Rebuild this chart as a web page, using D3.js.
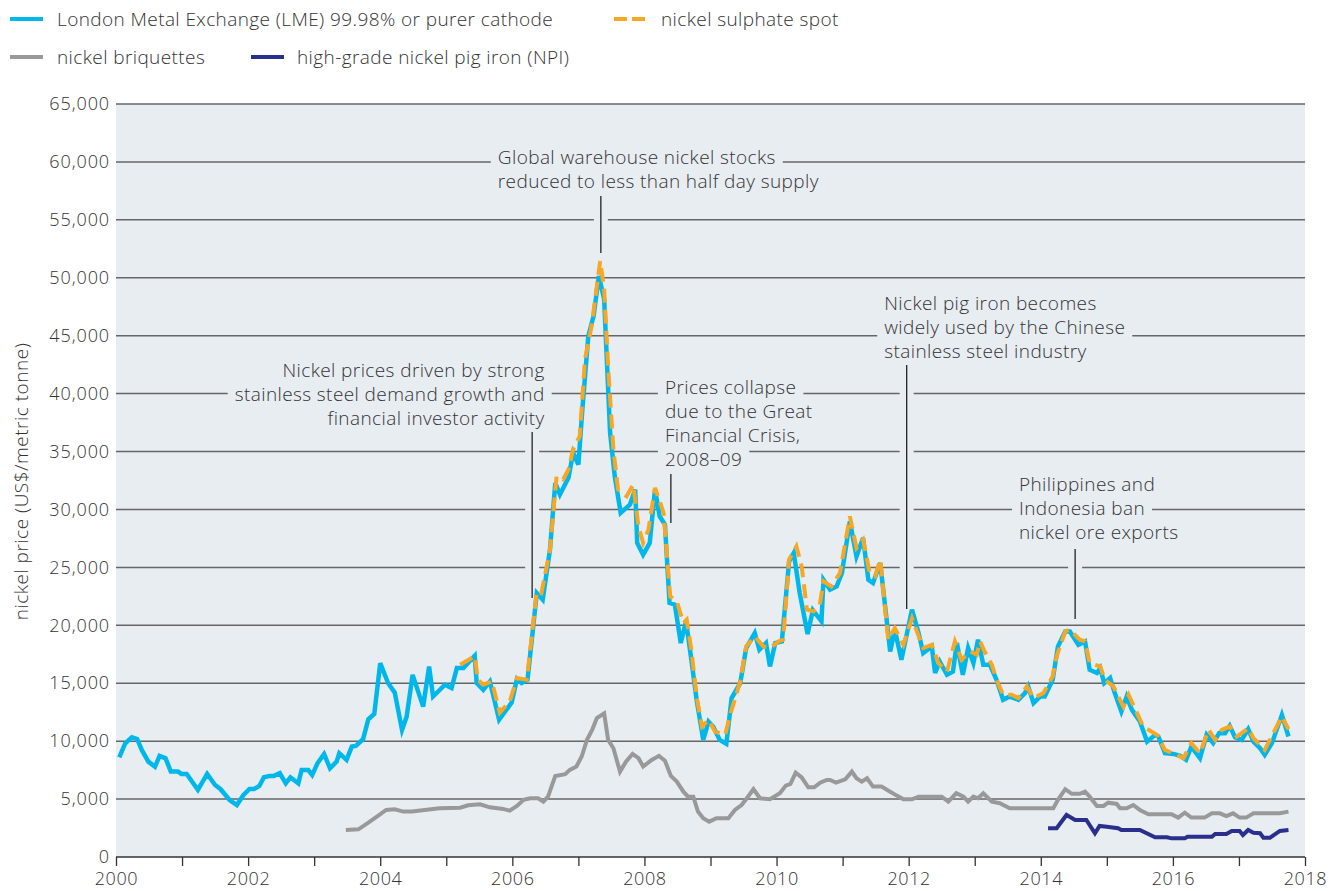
<!DOCTYPE html>
<html>
<head>
<meta charset="utf-8">
<script src="https://cdn.jsdelivr.net/npm/d3@7"></script>
<style>
  body { margin: 0; background: #fff; }
  svg { display: block; font-family: "Open Sans", "Lato", sans-serif; font-weight: 300; }
</style>
</head>
<body>
<div id="wrapper"></div>
<script>
// LME 99.98% cathode, [year, US$/t]
const lme = [
  [2000.05, 8610], [2000.14, 9820], [2000.24, 10340], [2000.32, 10190], [2000.39, 9240],
  [2000.49, 8230], [2000.59, 7800], [2000.66, 8720], [2000.75, 8520], [2000.83, 7370],
  [2000.94, 7370], [2000.99, 7170], [2001.07, 7170], [2001.24, 5790], [2001.38, 7170],
  [2001.50, 6220], [2001.58, 5870], [2001.72, 4920], [2001.83, 4490], [2001.93, 5350],
  [2002.02, 5870], [2002.09, 5870], [2002.17, 6130], [2002.24, 6880], [2002.33, 7000],
  [2002.39, 7000], [2002.48, 7230], [2002.57, 6360], [2002.64, 6880], [2002.76, 6360],
  [2002.81, 7510], [2002.91, 7510], [2002.97, 7080], [2003.05, 8090], [2003.15, 8890],
  [2003.24, 7660], [2003.34, 8230], [2003.38, 8960], [2003.49, 8380], [2003.57, 9530],
  [2003.63, 9590], [2003.74, 10170], [2003.82, 11890], [2003.91, 12350], [2004.00, 16730],
  [2004.12, 15000], [2004.22, 14190], [2004.33, 10970], [2004.40, 12120], [2004.49, 15720],
  [2004.65, 12980], [2004.74, 16440], [2004.80, 13850], [2004.98, 14870], [2005.08, 14580],
  [2005.16, 16310], [2005.26, 16310], [2005.43, 17370], [2005.46, 15010], [2005.56, 14430],
  [2005.66, 15150], [2005.80, 11840], [2005.99, 13340], [2006.07, 15360], [2006.14, 15010],
  [2006.23, 15300], [2006.37, 22790], [2006.46, 22210], [2006.57, 26530], [2006.65, 32300],
  [2006.72, 31290], [2006.85, 32730], [2006.92, 34890], [2007.00, 33880], [2007.06, 38630],
  [2007.15, 44970], [2007.23, 46700], [2007.31, 50150], [2007.39, 48140], [2007.48, 36620],
  [2007.55, 32870], [2007.64, 29710], [2007.78, 30420], [2007.86, 31720], [2007.89, 27110],
  [2007.98, 26100], [2008.08, 27110], [2008.16, 31720], [2008.23, 29410], [2008.31, 28700],
  [2008.38, 21930], [2008.46, 21780], [2008.55, 18470], [2008.63, 20340], [2008.71, 17030],
  [2008.79, 13570], [2008.89, 10110], [2008.97, 11690], [2009.04, 11260], [2009.14, 10110],
  [2009.24, 9770], [2009.32, 13720], [2009.45, 15010], [2009.54, 18040], [2009.67, 19330],
  [2009.74, 17890], [2009.84, 18470], [2009.90, 16450], [2009.98, 18470], [2010.08, 18610],
  [2010.19, 25520], [2010.26, 26250], [2010.35, 22800], [2010.47, 19250], [2010.55, 21300],
  [2010.68, 20340], [2010.71, 23940], [2010.81, 23080], [2010.91, 23360], [2010.99, 24520],
  [2011.11, 28980], [2011.21, 25950], [2011.31, 27540], [2011.39, 23940], [2011.46, 23650],
  [2011.57, 25380], [2011.72, 17740], [2011.79, 19620], [2011.89, 17030], [2012.05, 21350],
  [2012.15, 19330], [2012.22, 17600], [2012.35, 18180], [2012.40, 15880], [2012.47, 16880],
  [2012.58, 15730], [2012.67, 16010], [2012.73, 18470], [2012.82, 15730], [2012.90, 18040],
  [2012.98, 16740], [2013.05, 18760], [2013.13, 16590], [2013.23, 16590], [2013.33, 15300],
  [2013.43, 13570], [2013.53, 13850], [2013.66, 13570], [2013.76, 14150], [2013.81, 14720],
  [2013.89, 13280], [2013.99, 13850], [2014.06, 13850], [2014.18, 15300], [2014.26, 18180],
  [2014.37, 19470], [2014.44, 19470], [2014.57, 18320], [2014.67, 18610], [2014.74, 16160],
  [2014.85, 15880], [2014.90, 16310], [2014.96, 15010], [2015.05, 15450], [2015.12, 14150],
  [2015.22, 12560], [2015.30, 13850], [2015.38, 12700], [2015.50, 11690], [2015.61, 9960],
  [2015.73, 10540], [2015.78, 10400], [2015.88, 8960], [2016.01, 8900], [2016.11, 8730],
  [2016.20, 8380], [2016.28, 9530], [2016.41, 8530], [2016.51, 10540], [2016.61, 9830],
  [2016.70, 10690], [2016.79, 10690], [2016.86, 11320], [2016.94, 10340], [2017.04, 10110],
  [2017.14, 11030], [2017.22, 9960], [2017.32, 9390], [2017.39, 8820], [2017.50, 9830],
  [2017.65, 12270], [2017.75, 10400]
];

// nickel sulphate spot
const sulphate = [
  [2005.21, 16590], [2005.43, 17330], [2005.48, 15300], [2005.56, 14870], [2005.69, 15150],
  [2005.81, 12470], [2005.96, 13420], [2006.07, 15450], [2006.22, 15300], [2006.37, 22930],
  [2006.44, 22790], [2006.57, 26530], [2006.67, 32870], [2006.77, 32590], [2006.85, 33450],
  [2006.92, 35180], [2007.02, 36330], [2007.10, 42960], [2007.20, 45840], [2007.33, 51450],
  [2007.39, 49000], [2007.45, 42380], [2007.53, 35180], [2007.60, 31720], [2007.73, 31140],
  [2007.83, 32150], [2007.91, 28550], [2007.98, 27110], [2008.06, 28260], [2008.16, 31860],
  [2008.29, 29710], [2008.39, 22500], [2008.49, 22070], [2008.59, 20200], [2008.64, 20490],
  [2008.71, 17890], [2008.79, 13850], [2008.87, 11260], [2008.97, 11840], [2009.07, 10830],
  [2009.22, 10540], [2009.32, 12700], [2009.45, 15150], [2009.54, 18180], [2009.67, 19040],
  [2009.80, 18180], [2009.90, 18040], [2010.03, 18610], [2010.10, 18760], [2010.19, 25670],
  [2010.30, 26820], [2010.38, 25090], [2010.46, 21350], [2010.56, 21200], [2010.65, 21640],
  [2010.71, 23800], [2010.83, 23360], [2010.96, 24520], [2011.11, 29410], [2011.21, 26680],
  [2011.31, 27400], [2011.41, 24520], [2011.49, 24230], [2011.57, 25670], [2011.69, 18760],
  [2011.79, 19760], [2011.92, 18320], [2012.05, 20600], [2012.22, 18040], [2012.35, 18320],
  [2012.45, 16740], [2012.58, 16010], [2012.70, 18610], [2012.80, 17030], [2012.93, 17740],
  [2013.03, 17460], [2013.08, 18610], [2013.15, 17740], [2013.26, 16590], [2013.33, 15300],
  [2013.43, 14000], [2013.56, 14000], [2013.66, 13720], [2013.79, 14720], [2013.89, 13720],
  [2014.04, 14150], [2014.18, 15590], [2014.24, 17310], [2014.37, 19470], [2014.44, 19620],
  [2014.59, 18760], [2014.67, 18610], [2014.74, 16740], [2014.90, 16450], [2014.97, 15300],
  [2015.10, 14720], [2015.25, 12990], [2015.33, 14000], [2015.55, 11260], [2015.76, 10540],
  [2015.88, 9250], [2016.16, 8530], [2016.28, 9830], [2016.41, 8960], [2016.54, 10980],
  [2016.64, 10110], [2016.74, 10980], [2016.86, 11260], [2016.97, 10400], [2017.14, 11120],
  [2017.22, 10260], [2017.39, 9250], [2017.65, 12130], [2017.75, 11030]
];

// nickel briquettes
const briquettes = [
  [2003.48, 2330], [2003.67, 2390], [2003.82, 2960], [2003.95, 3480], [2004.09, 4060],
  [2004.22, 4120], [2004.35, 3920], [2004.48, 3920], [2004.90, 4210], [2005.21, 4260],
  [2005.33, 4470], [2005.51, 4550], [2005.66, 4290], [2005.86, 4150], [2005.96, 4000],
  [2006.07, 4410], [2006.17, 4930], [2006.27, 5070], [2006.39, 5070], [2006.47, 4780],
  [2006.54, 5210], [2006.65, 7000], [2006.80, 7150], [2006.87, 7520], [2006.97, 7810],
  [2007.05, 8670], [2007.13, 10110], [2007.21, 11000], [2007.28, 12000], [2007.39, 12400],
  [2007.45, 10110], [2007.53, 9390], [2007.63, 7370], [2007.72, 8230], [2007.82, 8900],
  [2007.91, 8530], [2007.98, 7810], [2008.11, 8380], [2008.22, 8730], [2008.31, 8320],
  [2008.40, 7000], [2008.49, 6510], [2008.59, 5640], [2008.66, 5210], [2008.74, 5210],
  [2008.81, 3920], [2008.89, 3340], [2008.98, 3050], [2009.09, 3340], [2009.27, 3340],
  [2009.37, 4060], [2009.47, 4490], [2009.55, 5070], [2009.65, 5850], [2009.75, 5070],
  [2009.90, 4980], [2010.05, 5500], [2010.14, 6160], [2010.21, 6310], [2010.29, 7280],
  [2010.38, 6880], [2010.48, 6020], [2010.57, 6020], [2010.66, 6420], [2010.76, 6650],
  [2010.81, 6650], [2010.90, 6420], [2011.04, 6710], [2011.14, 7370], [2011.21, 6800],
  [2011.29, 6510], [2011.37, 6800], [2011.46, 6080], [2011.59, 6080], [2011.72, 5640],
  [2011.82, 5300], [2011.92, 4980], [2012.05, 4980], [2012.15, 5210], [2012.50, 5210],
  [2012.60, 4780], [2012.72, 5500], [2012.83, 5210], [2012.90, 4780], [2012.98, 5210],
  [2013.05, 5070], [2013.13, 5500], [2013.26, 4780], [2013.38, 4640], [2013.53, 4210],
  [2014.19, 4210], [2014.26, 4930], [2014.37, 5850], [2014.47, 5450], [2014.59, 5450],
  [2014.67, 5640], [2014.74, 5210], [2014.85, 4410], [2014.95, 4410], [2015.02, 4690],
  [2015.15, 4580], [2015.20, 4210], [2015.30, 4210], [2015.40, 4490], [2015.50, 4060],
  [2015.63, 3690], [2015.98, 3690], [2016.08, 3400], [2016.18, 3830], [2016.28, 3400],
  [2016.48, 3400], [2016.59, 3770], [2016.71, 3770], [2016.81, 3540], [2016.91, 3770],
  [2017.01, 3400], [2017.11, 3400], [2017.22, 3770], [2017.62, 3770], [2017.75, 3920]
];

// high-grade nickel pig iron
const npi = [
  [2014.11, 2480], [2014.24, 2480], [2014.39, 3630], [2014.52, 3200], [2014.69, 3200],
  [2014.82, 2050], [2014.89, 2680], [2015.00, 2620], [2015.17, 2480], [2015.22, 2330],
  [2015.50, 2330], [2015.73, 1700], [2015.91, 1700], [2015.98, 1610], [2016.18, 1610],
  [2016.22, 1750], [2016.59, 1750], [2016.64, 1990], [2016.81, 1990], [2016.89, 2250],
  [2017.01, 2250], [2017.06, 1900], [2017.14, 2330], [2017.22, 2100], [2017.32, 2050],
  [2017.37, 1670], [2017.47, 1670], [2017.62, 2250], [2017.75, 2330]
];

const xTicks = d3.range(2000, 2019);
const yTicks = d3.range(0, 65001, 5000);

const legendItems = [
  { name: "London Metal Exchange (LME) 99.98% or purer cathode", key: "lme" },
  { name: "nickel sulphate spot", key: "sulphate" },
  { name: "nickel briquettes", key: "briquettes" },
  { name: "high-grade nickel pig iron (NPI)", key: "npi" }
];

// annotation text (tx, ty: first line, data units) and leader (lx, ly1 -> ly2)
const notes = [
  { lines: ["Global warehouse nickel stocks", "reduced to less than half day supply"],
    anchor: "start", tx: 2005.78, ty: 60430, lx: 2007.34, ly1: 57060, ly2: 52140 },
  { lines: ["Nickel prices driven by strong", "stainless steel demand growth and", "financial investor activity"],
    anchor: "end", tx: 2006.49, ty: 42040, lx: 2006.30, ly1: 36690, ly2: 22360 },
  { lines: ["Prices collapse", "due to the Great", "Financial Crisis,", "2008\u201309"],
    anchor: "start", tx: 2008.31, ty: 40570, lx: 2008.40, ly1: 33060, ly2: 28830 },
  { lines: ["Nickel pig iron becomes", "widely used by the Chinese", "stainless steel industry"],
    anchor: "start", tx: 2011.63, ty: 47820, lx: 2011.97, ly1: 42470, ly2: 21410 },
  { lines: ["Philippines and", "Indonesia ban", "nickel ore exports"],
    anchor: "start", tx: 2013.67, ty: 32200, lx: 2014.52, ly1: 26590, ly2: 20550 }
];

drawChart();

function drawChart() {
  const dimensions = {
    width: 1344,
    height: 891,
    margin: { top: 104, right: 39, bottom: 34, left: 116 }
  };
  dimensions.boundedWidth = dimensions.width - dimensions.margin.left - dimensions.margin.right;
  dimensions.boundedHeight = dimensions.height - dimensions.margin.top - dimensions.margin.bottom;

  const bg = "#e8edf2";
  const textColor = "#333333";
  const colors = { lme: "#00b7ec", sulphate: "#f7a724", briquettes: "#999999", npi: "#2b2f8c" };

  const svg = d3.select("#wrapper")
    .append("svg")
    .attr("width", dimensions.width)
    .attr("height", dimensions.height);

  const xScale = d3.scaleLinear()
    .domain([2000, 2018])
    .range([dimensions.margin.left, dimensions.margin.left + dimensions.boundedWidth]);

  const yScale = d3.scaleLinear()
    .domain([0, 65000])
    .range([dimensions.margin.top + dimensions.boundedHeight, dimensions.margin.top]);

  // plot background
  svg.append("rect")
    .attr("x", xScale(2000))
    .attr("y", yScale(65000))
    .attr("width", xScale(2018) - xScale(2000))
    .attr("height", yScale(0) - yScale(65000))
    .attr("fill", bg);

  // gridlines
  svg.append("g")
    .selectAll("line")
    .data(yTicks)
    .join("line")
    .attr("x1", xScale(2000))
    .attr("x2", xScale(2018))
    .attr("y1", (d) => yScale(d))
    .attr("y2", (d) => yScale(d))
    .attr("stroke", (d) => (d === 0 ? "#333" : "#666"))
    .attr("stroke-width", 1.5);

  // annotations: background boxes and halos first
  const lineGap = 24;
  const annG = svg.append("g");
  notes.forEach((n) => {
    const g = annG.append("g");
    const x0 = xScale(n.tx);
    const y0 = yScale(n.ty);
    g.append("line")
      .attr("x1", xScale(n.lx)).attr("x2", xScale(n.lx))
      .attr("y1", yScale(n.ly1)).attr("y2", yScale(n.ly2))
      .attr("stroke", bg).attr("stroke-width", 14);
    const boxes = g.append("g");
    const texts = g.selectAll("text")
      .data(n.lines)
      .join("text")
      .attr("x", x0)
      .attr("y", (d, i) => y0 + i * lineGap)
      .attr("dy", "0.35em")
      .attr("text-anchor", n.anchor)
      .attr("fill", textColor)
      .style("font-size", "19px")
      .style("letter-spacing", "0.4px")
      .text((d) => d);
    texts.each(function (d, i) {
      const b = this.getBBox();
      boxes.append("rect")
        .attr("x", b.x - 7)
        .attr("y", y0 + i * lineGap - lineGap / 2)
        .attr("width", b.width + 14)
        .attr("height", lineGap)
        .attr("fill", bg);
    });
    g.append("line")
      .attr("x1", xScale(n.lx)).attr("x2", xScale(n.lx))
      .attr("y1", yScale(n.ly1)).attr("y2", yScale(n.ly2))
      .attr("stroke", "#222").attr("stroke-width", 1.3);
  });

  // series
  const lineGenerator = d3.line()
    .x((d) => xScale(d[0]))
    .y((d) => yScale(d[1]));

  const series = [
    { key: "briquettes", data: briquettes },
    { key: "npi", data: npi },
    { key: "lme", data: lme },
    { key: "sulphate", data: sulphate }
  ];

  svg.append("g")
    .selectAll("path")
    .data(series)
    .join("path")
    .attr("d", (d) => lineGenerator(d.data))
    .attr("fill", "none")
    .attr("stroke", (d) => colors[d.key])
    .attr("stroke-width", (d) => (d.key === "lme" ? 4.5 : 4))
    .attr("stroke-linejoin", "miter")
    .attr("stroke-dasharray", (d) => (d.key === "sulphate" ? "14,7" : null));

  // axes
  const xAxisGenerator = d3.axisBottom(xScale)
    .tickValues(xTicks)
    .tickFormat((d) => (d % 2 === 0 ? d : ""))
    .tickSize(9)
    .tickPadding(6);

  const xAxis = svg.append("g")
    .attr("transform", `translate(0, ${yScale(0)})`)
    .call(xAxisGenerator);
  xAxis.select(".domain").remove();
  xAxis.selectAll("line").attr("stroke", "#333").attr("stroke-width", 1.3);
  xAxis.selectAll("text")
    .attr("fill", textColor)
    .style("font-size", "18px")
    .style("letter-spacing", "0.6px")
    .style("font-family", "'Open Sans', sans-serif")
    .style("font-weight", 300);

  const yAxisGenerator = d3.axisLeft(yScale)
    .tickValues(yTicks)
    .tickFormat(d3.format(","))
    .tickSize(0)
    .tickPadding(6);

  const yAxis = svg.append("g")
    .attr("transform", `translate(${xScale(2000)}, 0)`)
    .call(yAxisGenerator);
  yAxis.select(".domain").remove();
  yAxis.selectAll("text")
    .attr("fill", textColor)
    .style("font-size", "18px")
    .style("letter-spacing", "0.9px")
    .style("font-family", "'Open Sans', sans-serif")
    .style("font-weight", 300);

  svg.append("text")
    .attr("transform", `translate(21, ${yScale(32500) + 1}) rotate(-90)`)
    .attr("text-anchor", "middle")
    .attr("dy", "0.35em")
    .attr("fill", textColor)
    .style("font-size", "19px")
    .style("letter-spacing", "0.5px")
    .text("nickel price (US$/metric tonne)");

  // legend
  const legendPos = [
    { x: 10, y: 19 },
    { x: 614, y: 19 },
    { x: 10, y: 57 },
    { x: 251, y: 57 }
  ];
  const legend = svg.append("g")
    .selectAll("g")
    .data(legendItems)
    .join("g")
    .attr("transform", (d, i) => `translate(${legendPos[i].x}, ${legendPos[i].y})`);

  legend.append("line")
    .attr("x1", 0).attr("x2", 33)
    .attr("stroke", (d) => colors[d.key])
    .attr("stroke-width", 4)
    .attr("stroke-dasharray", (d) => (d.key === "sulphate" ? "13,5" : null));

  legend.append("text")
    .attr("x", (d, i) => (i === 3 ? 46 : 47))
    .attr("dy", "0.35em")
    .attr("fill", textColor)
    .style("font-size", "19px")
    .style("letter-spacing", "0.4px")
    .text((d) => d.name);
}
</script>
</body>
</html>
